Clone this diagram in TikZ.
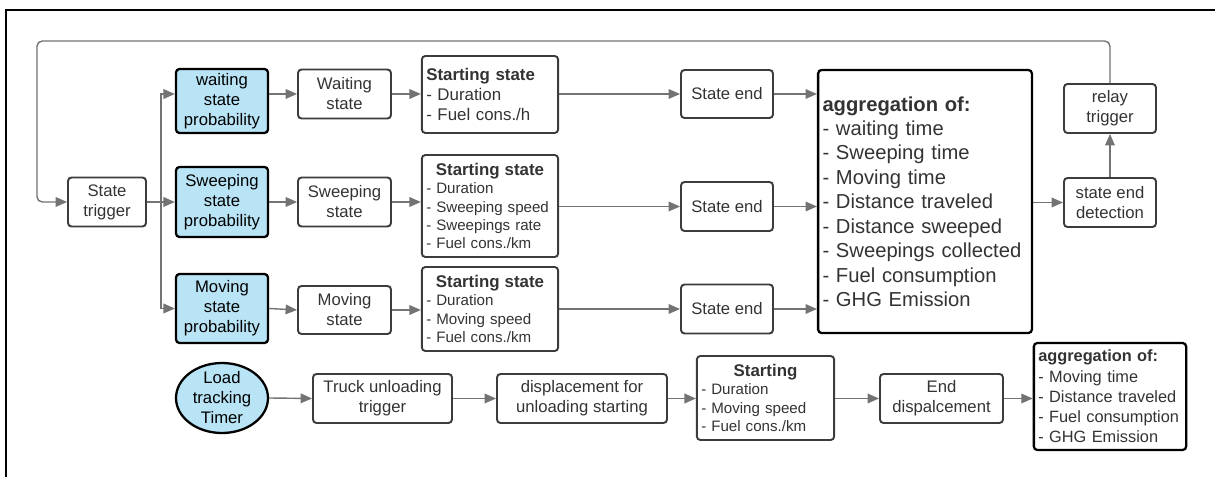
\documentclass[tikz,border=0pt]{standalone}
\usepackage{fontspec}
\setmainfont{Liberation Sans}
\usetikzlibrary{arrows.meta,shapes.geometric}
\definecolor{probblue}{RGB}{184,228,246}
\definecolor{linegray}{RGB}{115,115,115}
\definecolor{boxgray}{RGB}{60,60,60}
\hyphenpenalty=10000
\begin{document}
\begin{tikzpicture}[scale=0.2,
  box/.style={draw=boxgray, line width=1.1pt, rounded corners=2pt, inner sep=2pt,
    text=black!80, align=center, font=\fontsize{9.5}{11.4}\selectfont},
  probbox/.style={box, draw=black, line width=1.3pt, fill=probblue, text=black},
  listbox/.style={box, align=left, inner xsep=2.5pt},
  aggbox/.style={listbox, draw=black, line width=1.3pt},
  wire/.style={draw=linegray, line width=0.8pt},
  flow/.style={wire, -{Triangle[length=6.5pt,width=5.5pt]}}]
 	\useasboundingbox (0,0) rectangle (121.5,-47.7);
 	\draw [line width=1.4pt] (0.6,-47.7) -- (0.6,-1) -- (121.5,-1);
 	% state loop
 	\node [box, minimum width=1.56cm, minimum height=0.98cm] (trig) at (10.7,-20.2) {State\\trigger};
 	\node [probbox, minimum width=1.84cm, minimum height=1.28cm] (pwait) at (22.2,-10.1) {waiting\\state\\probability};
 	\node [probbox, minimum width=1.84cm, minimum height=1.4cm] (psweep) at (22.2,-20.2) {Sweeping\\state\\probability};
 	\node [probbox, minimum width=1.84cm, minimum height=1.38cm] (pmove) at (22.2,-30.85) {Moving\\state\\probability};
 	\node [box, minimum width=1.86cm, minimum height=0.98cm] (swait) at (34.45,-9.4) {Waiting\\state};
 	\node [box, minimum width=1.86cm, minimum height=0.98cm] (ssweep) at (34.45,-20.2) {Sweeping\\state};
 	\node [box, minimum width=1.86cm, minimum height=0.96cm] (smove) at (34.45,-31.0) {Moving\\state};
 	\node [listbox, text width=2.55cm, minimum height=1.54cm, font=\fontsize{9.6}{11.5}\selectfont] (start1) at (49,-9.45)
 	  {\textbf{Starting state}\\- Duration\\- Fuel cons./h};
 	\node [listbox, text width=2.55cm, minimum height=2.04cm, font=\fontsize{8.6}{10.4}\selectfont] (start2) at (49,-20.6)
 	  {\makebox[\linewidth][c]{\fontsize{9.6}{10.4}\selectfont\textbf{Starting state}}\\- Duration\\- Sweeping speed\\- Sweepings rate\\- Fuel cons./km};
 	\node [listbox, text width=2.55cm, minimum height=1.68cm, font=\fontsize{8.6}{10.4}\selectfont] (start3) at (49,-30.9)
 	  {\makebox[\linewidth][c]{\fontsize{9.6}{10.4}\selectfont\textbf{Starting state}}\\- Duration\\- Moving speed\\- Fuel cons./km};
 	\node [box, minimum width=1.84cm, minimum height=0.96cm] (end1) at (72.7,-9.4) {State end};
 	\node [box, minimum width=1.84cm, minimum height=0.98cm] (end2) at (72.7,-20.65) {State end};
 	\node [box, minimum width=1.84cm, minimum height=0.98cm] (end3) at (72.7,-30.9) {State end};
 	\node [aggbox, text width=4.1cm, minimum height=5.26cm, font=\fontsize{11.5}{13.9}\selectfont] (agg) at (92.5,-20.15)
 	  {\textbf{aggregation of:}\\- waiting time\\- Sweeping time\\- Moving time\\- Distance traveled\\- Distance sweeped\\- Sweepings collected\\- Fuel consumption\\- GHG Emission};
 	\node [box, minimum width=1.84cm, minimum height=0.98cm] (detect) at (111,-20.25) {state end\\detection};
 	\node [box, minimum width=1.84cm, minimum height=0.98cm] (relay) at (111,-10.85) {relay\\trigger};
 	\coordinate (br) at (16.1,-20.2);
 	\coordinate (fb) at (3.7,-4.1);
 	\draw [wire] (trig.east) -- (br);
 	\draw [flow] (br) |- (pwait.west |- swait.west);
 	\draw [flow] (br) -- (psweep.west);
 	\draw [flow] (br) |- (pmove.west);
 	\draw [flow] (pwait.east |- swait.west) -- (swait.west);
 	\draw [flow] (psweep.east) -- (ssweep.west);
 	\draw [flow] (pmove.east) -- (smove.west);
 	\draw [flow] (swait.east) -- (start1.west |- swait.east);
 	\draw [flow] (ssweep.east) -- (start2.west |- ssweep.east);
 	\draw [flow] (smove.east) -- (start3.west |- smove.east);
 	\draw [flow] (start1.east |- end1.west) -- (end1.west);
 	\draw [flow] (start2.east |- end2.west) -- (end2.west);
 	\draw [flow] (start3.east |- end3.west) -- (end3.west);
 	\draw [flow] (end1.east) -- (agg.west |- end1.east);
 	\draw [flow] (end2.east) -- (agg.west |- end2.east);
 	\draw [flow] (end3.east) -- (agg.west |- end3.east);
 	\draw [flow] (agg.east |- detect.west) -- (detect.west);
 	\draw [flow] (detect.north) -- (relay.south);
 	\draw [flow, rounded corners=3pt] (relay.north) |- (fb) |- (trig.west);
 	% unloading
 	\node [probbox, ellipse, minimum width=1.84cm, minimum height=1.4cm] (timer) at (22.2,-39.8) {};
 	\node [align=center, inner sep=0pt, font=\fontsize{9.5}{11.4}\selectfont] (timertxt) at (timer) {Load\\tracking\\Timer};
 	\node [box, minimum width=2.78cm, minimum height=0.98cm] (unload) at (38.25,-39.85) {Truck unloading\\trigger};
 	\node [box, minimum width=3.4cm, minimum height=0.98cm] (displ) at (58.2,-39.85) {displacement for\\unloading starting};
 	\node [listbox, text width=2.57cm, minimum height=1.68cm, font=\fontsize{8.6}{10.4}\selectfont] (start4) at (76.55,-39.8)
 	  {\makebox[\linewidth][c]{\fontsize{9.6}{10.4}\selectfont\textbf{Starting}}\\- Duration\\- Moving speed\\- Fuel cons./km};
 	\node [box, minimum width=2.46cm, minimum height=0.98cm] (endd) at (94.15,-39.85) {End\\dispalcement};
 	\node [aggbox, text width=2.87cm, minimum height=2.14cm, font=\fontsize{9.3}{11.5}\selectfont] (agg2) at (111,-39.65)
 	  {\textbf{aggregation of:}\\- Moving time\\- Distance traveled\\- Fuel\ consumption\\- GHG Emission};
 	\draw [flow] (timer.east) -- (unload.west);
 	\draw [flow] (unload.east) -- (displ.west);
 	\draw [flow] (displ.east) -- (start4.west |- displ.east);
 	\draw [flow] (start4.east |- endd.west) -- (endd.west);
 	\draw [flow] (endd.east) -- (agg2.west |- endd.east);
\end{tikzpicture}
\end{document}
